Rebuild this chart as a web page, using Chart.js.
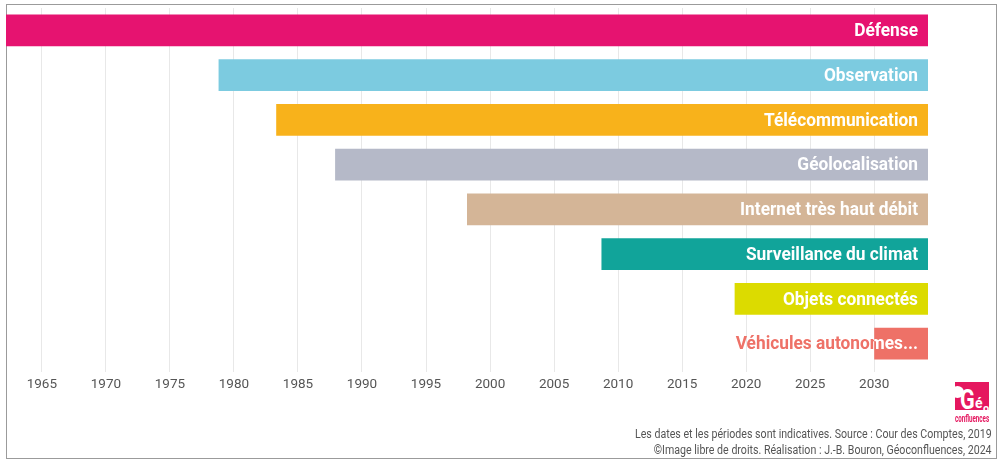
<!DOCTYPE html>
<html>
<head>
<meta charset="utf-8">
<script src="https://cdn.jsdelivr.net/npm/chart.js@4.4.1/dist/chart.umd.min.js"></script>
<style>
body { margin:0; width:1000px; height:465px; overflow:hidden; background:#fff; font-family:Roboto, sans-serif; }
#frame { position:absolute; left:6px; top:4px; width:991px; height:455px; border:1px solid #9b9b9b; box-sizing:border-box; }
#chart { position:absolute; left:0; top:0; }
.note { position:absolute; right:8px; font-size:12.5px; color:#555; white-space:nowrap; transform:scaleX(0.85); transform-origin:right center; line-height:14px; }
#logo { position:absolute; left:955px; top:382px; width:38px; height:42px; }
#logo .blk { position:absolute; left:0; top:0; width:34px; height:28px; background:#e5175f; overflow:hidden; }
#logo .blob { position:absolute; left:-4px; top:4px; width:13px; height:12px; border-radius:50%; background:#fff; }
#logo .g { position:absolute; left:5px; top:5px; font:bold 27px Roboto; color:#fff; transform:scaleX(0.8); transform-origin:left top; line-height:27px; }
#logo .e { position:absolute; left:20px; top:14px; font:bold 14px Roboto; color:#fff; line-height:14px; }
#logo .o { position:absolute; left:28px; top:21px; font:bold 11px Roboto; color:#fff; line-height:11px; }
#logo .c { position:absolute; left:0; top:32px; font:bold 10px Roboto; color:#e5175f; transform:scaleX(0.62); transform-origin:left top; white-space:nowrap; line-height:10px; }
</style>
</head>
<body>
<div id="frame"></div>
<canvas id="chart" width="1000" height="465"></canvas>
<div id="logo"><div class="blk"><div class="blob"></div><div class="g">G</div><div class="e">é</div><div class="o">o</div></div><div class="c">confluences</div></div>
<div class="note" style="top:427px">Les dates et les périodes sont indicatives. Source : Cour des Comptes, 2019</div>
<div class="note" style="top:443px"><b>©</b>Image libre de droits. Réalisation : J.-B. Bouron, Géoconfluences, 2024</div>
<script>
// usages du spatial, depuis quand
const categories = ['Défense', 'Observation', 'Télécommunication', 'Géolocalisation',
    'Internet très haut débit', 'Surveillance du climat', 'Objets connectés', 'Véhicules autonomes...'];
const startYears = [1962.2, 1978.8, 1983.3, 1987.9, 1998.2, 2008.7, 2019.1, 2030.0];
const endYears = [2034.2, 2034.2, 2034.2, 2034.2, 2034.2, 2034.2, 2034.2, 2034.2];
const barColors = ['#e61370', '#7ccbe0', '#f8b21b', '#b5b9c8', '#d4b597', '#11a49a', '#dcdb00', '#ee7167'];
const tickYears = [1965, 1970, 1975, 1980, 1985, 1990, 1995, 2000, 2005, 2010, 2015, 2020, 2025, 2030];

// labels dans les barres (blanc dedans, couleur de la barre dehors)
const barLabels = {
    id: 'barLabels',
    afterDatasetsDraw(chart) {
        const ctx = chart.ctx;
        const meta = chart.getDatasetMeta(0);
        const sx = 0.91;
        meta.data.forEach((bar, i) => {
            const txt = categories[i];
            const right = bar.x - 10;
            ctx.save();
            ctx.font = 'bold 19px Roboto';
            ctx.textAlign = 'right';
            ctx.textBaseline = 'middle';
            const w = ctx.measureText(txt).width * sx;
            const drawIt = (color) => {
                ctx.save();
                ctx.translate(right, bar.y + 1);
                ctx.scale(sx, 1);
                ctx.fillStyle = color;
                ctx.fillText(txt, 0, 0);
                ctx.restore();
            };
            if (right - w < bar.base) {
                drawIt(barColors[i]);
                ctx.beginPath();
                ctx.rect(bar.base, bar.y - bar.height / 2, bar.x - bar.base, bar.height);
                ctx.clip();
            }
            drawIt('#fff');
            ctx.restore();
        });
    }
};

const data = {
    labels: categories,
    datasets: [{
        data: categories.map((c, i) => [startYears[i], endYears[i]]),
        backgroundColor: barColors,
        borderWidth: 0,
        barPercentage: 0.714,
        categoryPercentage: 1
    }]
};

new Chart(document.getElementById('chart'), {
    type: 'bar',
    data,
    options: {
        indexAxis: 'y',
        responsive: false,
        animation: false,
        layout: { padding: { left: 6, top: 8, right: 72, bottom: 0 } },
        plugins: { legend: { display: false }, tooltip: { enabled: false } },
        scales: {
            x: {
                type: 'linear',
                min: 1962.2,
                max: 2034.2,
                afterBuildTicks: (s) => { s.ticks = tickYears.map(v => ({ value: v })); },
                afterFit: (s) => { s.height = 99; },
                grid: { color: '#e8e8e8', lineWidth: 1, tickLength: 6 },
                border: { display: false },
                ticks: {
                    color: '#555', font: { family: 'Roboto', size: 13.5 }, padding: 5,
                    maxRotation: 0, autoSkip: false,
                    callback: (v) => String(v)
                }
            },
            y: { display: false }
        }
    },
    plugins: [barLabels]
});
</script>
</body>
</html>
